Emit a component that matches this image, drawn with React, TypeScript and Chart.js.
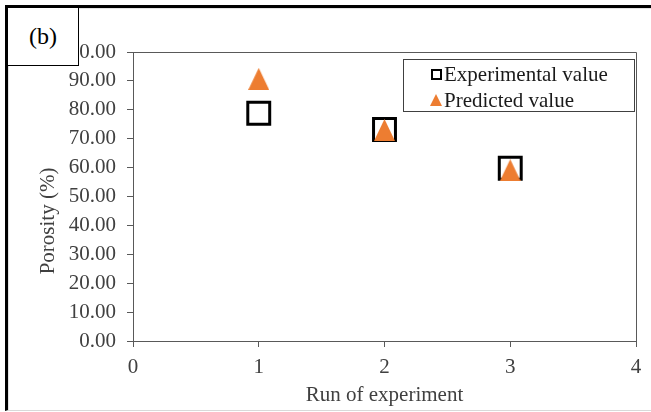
import React, { useEffect, useRef } from "react";
import { Chart, registerables } from "chart.js";

Chart.register(...registerables);

const runs = [1, 2, 3];
const experimentalValues = [78.8, 73.2, 59.8];
const predictedValues = [90.7, 73.0, 59.1];
const seriesLabels = ["Experimental value", "Predicted value"];
const xTitle = "Run of experiment";
const yTitle = "Porosity (%)";
const panelLabel = "(b)";

const FONT = "'Liberation Serif', 'Times New Roman', serif";
const ORANGE = "#ED7D31";
const AXIS = "#595959";
const TEXT = "#404040";

function makeTriangle(): HTMLCanvasElement {
  const c = document.createElement("canvas");
  c.width = 21;
  c.height = 22;
  const g = c.getContext("2d")!;
  g.fillStyle = ORANGE;
  g.beginPath();
  g.moveTo(10.5, 0);
  g.lineTo(21, 22);
  g.lineTo(0, 22);
  g.closePath();
  g.fill();
  return c;
}

export default function App() {
  const ref = useRef<HTMLCanvasElement | null>(null);

  useEffect(() => {
    if (!ref.current) return;
    const tri = makeTriangle();
    const frame = {
      id: "frame",
      beforeDatasetsDraw(chart: any) {
        const { ctx, chartArea } = chart;
        ctx.save();
        ctx.strokeStyle = AXIS;
        ctx.lineWidth = 1;
        ctx.beginPath();
        ctx.moveTo(Math.round(chartArea.left) + 0.5, Math.round(chartArea.top) + 0.5);
        ctx.lineTo(Math.round(chartArea.right) + 0.5, Math.round(chartArea.top) + 0.5);
        ctx.lineTo(Math.round(chartArea.right) + 0.5, Math.round(chartArea.bottom) + 0.5);
        ctx.stroke();
        ctx.restore();
      },
      afterDraw(chart: any) {
        const { ctx } = chart;
        ctx.save();
        ctx.translate(48, 221);
        ctx.rotate(-Math.PI / 2);
        ctx.font = "21px " + FONT;
        ctx.fillStyle = TEXT;
        ctx.textAlign = "center";
        ctx.textBaseline = "middle";
        ctx.fillText(yTitle, 0, 0);
        ctx.restore();
      },
    };
    const chart = new Chart(ref.current, {
      type: "scatter",
      data: {
        datasets: [
          {
            label: seriesLabels[1],
            data: runs.map((r, i) => ({ x: r, y: predictedValues[i] })),
            pointStyle: tri as any,
            order: 0,
          },
          {
            label: seriesLabels[0],
            data: runs.map((r, i) => ({ x: r, y: experimentalValues[i] })),
            pointStyle: "rect",
            pointRadius: 15.5,
            pointBorderWidth: 3,
            pointBorderColor: "#000000",
            pointBackgroundColor: "#ffffff",
            order: 1,
          },
        ],
      },
      options: {
        responsive: false,
        animation: false,
        layout: { autoPadding: false, padding: { left: 0, right: 15, top: 52, bottom: 4 } },
        plugins: { legend: { display: false }, tooltip: { enabled: false } },
        scales: {
          x: {
            type: "linear",
            min: 0,
            max: 4,
            ticks: { stepSize: 1, color: TEXT, font: { family: FONT, size: 21 }, padding: 8 },
            grid: { drawOnChartArea: false, drawTicks: true, tickLength: 6, color: AXIS },
            border: { display: true, color: AXIS, width: 1 },
            title: { display: true, text: xTitle, color: TEXT, font: { family: FONT, size: 21 }, padding: 0 },
            afterFit(scale: any) {
              scale.height = 412 - 4 - 341;
              scale.paddingLeft = 0;
              scale.paddingRight = 0;
            },
          },
          y: {
            type: "linear",
            min: 0,
            max: 100,
            ticks: {
              stepSize: 10,
              color: TEXT,
              font: { family: FONT, size: 21 },
              padding: 11,
              callback: (v: any) => Number(v).toFixed(2),
            },
            grid: { drawOnChartArea: false, drawTicks: true, tickLength: 6, color: AXIS },
            border: { display: true, color: AXIS, width: 1 },
            afterFit(scale: any) {
              scale.width = 133;
              scale.paddingTop = 0;
              scale.paddingBottom = 0;
            },
          },
        },
      },
      plugins: [frame],
    });
    return () => chart.destroy();
  }, []);

  return (
    <div style={{ position: "fixed", left: 0, top: 0, width: 651, height: 412, overflow: "hidden", background: "#fff" }}>
      <canvas ref={ref} width={651} height={412} style={{ position: "absolute", left: 0, top: 0 }} />
      <div style={{ position: "absolute", left: 5, top: 5, width: 700, height: 402, borderTop: "3px solid #000", borderLeft: "3px solid #000", borderBottom: "1px solid #d9d9d9", pointerEvents: "none" }} />
      <div style={{ position: "absolute", left: 8, top: 8, width: 700, height: 401, borderTop: "1px solid #e3e3e3", borderLeft: "1px solid #e3e3e3", pointerEvents: "none" }} />
      <div style={{ position: "absolute", left: 7, top: 7, width: 70, height: 57, border: "1px solid #000", background: "#fff", fontFamily: FONT, fontSize: 24, color: "#000", display: "flex", alignItems: "center", justifyContent: "center" }}>
        {panelLabel}
      </div>
      <div style={{ position: "absolute", left: 403, top: 59, width: 230, height: 51, border: "1px solid #404040", background: "#fff", fontFamily: FONT, fontSize: 21, color: "#1a1a1a" }}>
        <div style={{ position: "absolute", left: 27, top: 2, height: 24, display: "flex", alignItems: "center", whiteSpace: "nowrap" }}>
          <span style={{ display: "inline-block", width: 7, height: 7, border: "2px solid #000", marginRight: 2 }} />
          <span>{seriesLabels[0]}</span>
        </div>
        <div style={{ position: "absolute", left: 26, top: 28, height: 24, display: "flex", alignItems: "center", whiteSpace: "nowrap" }}>
          <span style={{ display: "inline-block", width: 0, height: 0, borderLeft: "6px solid transparent", borderRight: "6px solid transparent", borderBottom: "12px solid " + ORANGE, marginRight: 2 }} />
          <span>{seriesLabels[1]}</span>
        </div>
      </div>
    </div>
  );
}
